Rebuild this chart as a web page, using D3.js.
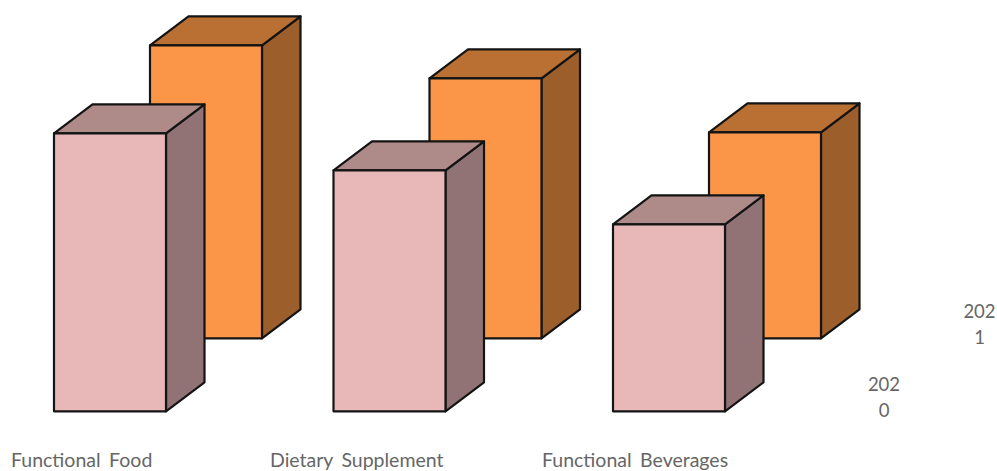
<!DOCTYPE html>
<html>
<head>
<meta charset="utf-8">
<script src="https://cdn.jsdelivr.net/npm/d3@7/dist/d3.min.js"></script>
<style>
  html, body { margin: 0; padding: 0; background: #fff; }
  svg { display: block; }
  text { font-family: Lato, "Open Sans", sans-serif; fill: #666; font-size: 18.5px; }
  text.category { font-size: 19.5px; word-spacing: 3.5px; }
</style>
</head>
<body>
<svg id="chart" width="997" height="471"></svg>
<script>
// Chart values, one list per year
const categories = ["Functional Food", "Dietary Supplement", "Functional Beverages"];
const values2020 = [278, 241, 187];
const values2021 = [293, 260, 206];
const seriesNames = ["2020", "2021"];

const svg = d3.select("#chart");

// Horizontal placement of the three groups, vertical scale in value units
const x = d3.scalePoint().domain(categories).range([54, 613]);
const depth = d3.scaleOrdinal().domain(seriesNames).range([0, 1]);
const y = d3.scaleLinear().domain([0, 300]).range([411.3, 111.3]);

const barWidth = 112;
const skewX = 38.5;
const skewY = 29;
const rowShiftX = 96;
const rowShiftY = 73;

const palette = {
  "2020": { front: "#E8B8B8", top: "#AE8A89", side: "#927375" },
  "2021": { front: "#FB9648", top: "#BB7033", side: "#9C5F2C" }
};

const line = d3.line();

// Draws one box: front face, lid and right side, sharing the same outline
function drawBox(group, cat, value, series) {
  const d = depth(series);
  const x0 = x(cat) + d * rowShiftX;
  const x1 = x0 + barWidth;
  const yb = y(0) - d * rowShiftY;
  const yt = y(value) - d * rowShiftY;
  const faces = [
    { fill: palette[series].side, pts: [[x1, yb], [x1, yt], [x1 + skewX, yt - skewY], [x1 + skewX, yb - skewY]] },
    { fill: palette[series].top, pts: [[x0, yt], [x0 + skewX, yt - skewY], [x1 + skewX, yt - skewY], [x1, yt]] },
    { fill: palette[series].front, pts: [[x0, yb], [x0, yt], [x1, yt], [x1, yb]] }
  ];
  group.selectAll(null).data(faces).join("path")
    .attr("d", f => line(f.pts) + "Z")
    .attr("fill", f => f.fill)
    .attr("stroke", "#141414")
    .attr("stroke-width", 2.2)
    .attr("stroke-linejoin", "round");
}

// Back row first so the front row overlaps it
[["2021", values2021], ["2020", values2020]].forEach(([series, vals]) => {
  const g = svg.append("g").attr("class", "series-" + series);
  categories.forEach((c, i) => drawBox(g.append("g"), c, vals[i], series));
});

// Category labels under the boxes
const labelX = [11, 270, 542];
svg.append("g").selectAll("text").data(categories).join("text")
  .attr("class", "category")
  .attr("x", (d, i) => labelX[i])
  .attr("y", 466.5)
  .text(d => d);

// Series labels wrapped in a narrow column along the depth axis
const seriesLabels = [
  { name: "2020", cx: 884, y0: 391 },
  { name: "2021", cx: 979.5, y0: 318 }
];
seriesLabels.forEach(s => {
  const t = svg.append("text").attr("text-anchor", "middle");
  t.append("tspan").attr("x", s.cx).attr("y", s.y0).text(s.name.slice(0, 3));
  t.append("tspan").attr("x", s.cx).attr("y", s.y0 + 26).text(s.name.slice(3));
});
</script>
</body>
</html>
